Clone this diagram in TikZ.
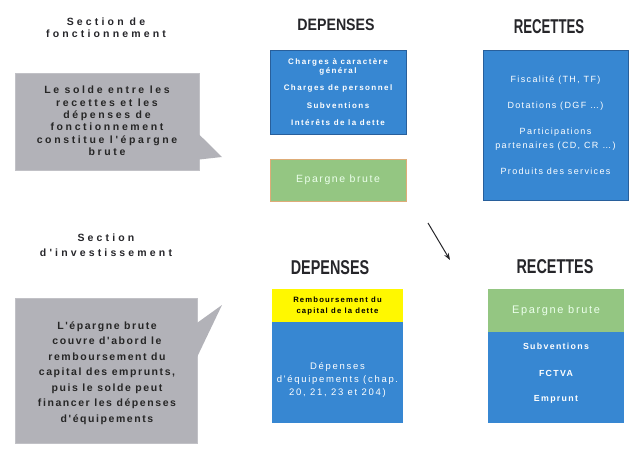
\documentclass[tikz,border=0pt]{standalone}
\usepackage{fontspec}
\setmainfont{Liberation Sans}
\newfontfamily\headfont[FakeStretch=0.72]{Liberation Sans}
\newfontfamily\headwidefont[FakeStretch=0.86]{Liberation Sans}
\newfontfamily\headnarrowfont[FakeStretch=0.66]{Liberation Sans}
\newfontfamily\spfont[LetterSpace=15]{Liberation Sans}
\newfontfamily\boxfont[LetterSpace=18]{Liberation Sans}
\newfontfamily\widefont[LetterSpace=25]{Liberation Sans}
\newfontfamily\titlefont[LetterSpace=30]{Liberation Sans}
\usetikzlibrary{arrows.meta}

\definecolor{boxblue}{RGB}{55,135,210}
\definecolor{boxblueline}{RGB}{40,95,155}
\definecolor{callgray}{RGB}{178,178,184}
\definecolor{epgreen}{RGB}{148,198,130}
\definecolor{eporange}{RGB}{222,172,120}
\definecolor{remyellow}{RGB}{255,248,0}
\definecolor{headgray}{RGB}{38,38,42}

\tikzset{
  bluebox/.style={rectangle,fill=boxblue,draw=boxblueline,line width=0.8pt,inner sep=0pt},
  greenbox/.style={rectangle,fill=epgreen,draw=eporange,line width=0.8pt,inner sep=0pt},
  yellowbox/.style={rectangle,fill=remyellow,inner sep=0pt},
  callbox/.style={rectangle,fill=callgray,draw=callgray!80!white,inner sep=0pt},
  heading/.style={text=headgray,font=\headfont\bfseries\fontsize{20}{22}\selectfont},
  section/.style={text=headgray,align=center,
    font=\titlefont\bfseries\fontsize{10.5}{12}\selectfont},
  calltext/.style={text=black!85,align=center,
    font=\widefont\bfseries\fontsize{10.5}{12.4}\selectfont},
  whitetext/.style={text=white,font=\boxfont\bfseries\fontsize{8}{9}\selectfont},
  rectext/.style={text=white,font=\spfont\fontsize{9}{14}\selectfont},
}

\begin{document}
\begin{tikzpicture}[x=1pt,y=-1pt]

  \useasboundingbox (0,0) rectangle (635,450);

  % section de fonctionnement
  \node[section] (secF) at (106,28) {Section de\\fonctionnement};

  \node[callbox,minimum width=184pt,minimum height=97pt] (callA) at (107,121.5) {};
  \coordinate (tipA) at (222,157);
  \fill[callgray] ([yshift=-13pt]callA.east) -- (tipA) -- ([yshift=-38pt]callA.east) -- cycle;
  \node[calltext] (txtA) at (107,121) {Le solde entre les\\recettes et les\\dépenses de\\fonctionnement\\constitue l'épargne\\brute};

  \node[heading,font=\headwidefont\bfseries\fontsize{16.5}{18}\selectfont] (depA) at (336,25) {DEPENSES};
  \node[heading,font=\headnarrowfont\bfseries\fontsize{20}{22}\selectfont] (recA) at (549,27) {RECETTES};

  \node[bluebox,minimum width=136pt,minimum height=84pt] (chgA) at (338,92) {};
  \node[whitetext] (chgA1) at (338,62) {Charges à caractère};
  \node[whitetext] (chgA2) at (338,71) {général};
  \node[whitetext] (chgA3) at (338,88) {Charges de personnel};
  \node[whitetext] (chgA4) at (338,106) {Subventions};
  \node[whitetext] (chgA5) at (338,123) {Intérêts de la dette};

  \node[greenbox,minimum width=136pt,minimum height=42pt,text=white!92!green,
    font=\spfont\fontsize{10.5}{12}\selectfont] (epA) at (338,180) {Epargne brute};

  \node[bluebox,minimum width=145pt,minimum height=150pt] (prdA) at (555.5,125) {};
  \node[rectext] (prdA1) at (555.5,80) {Fiscalité (TH, TF)};
  \node[rectext] (prdA2) at (555.5,106) {Dotations (DGF \dots)};
  \node[rectext] (prdA3) at (555.5,132) {Participations};
  \node[rectext] (prdA4) at (555.5,146) {partenaires (CD, CR \dots)};
  \node[rectext] (prdA5) at (555.5,171) {Produits des services};

  % lien entre les deux sections
  \coordinate (arrS) at (428,223);
  \coordinate (arrE) at (450,260);
  \draw[headgray,line width=1pt,-{Stealth[length=7pt,width=5pt]}] (arrS) -- (arrE);

  % section d'investissement
  \node[section,font=\titlefont\bfseries\fontsize{10.5}{14.5}\selectfont] (secI) at (106,245) {Section\\d'investissement};

  \node[callbox,minimum width=182pt,minimum height=145pt] (callB) at (106,370.5) {};
  \coordinate (tipB) at (222,305);
  \fill[callgray] ([yshift=-25pt]callB.north east) -- (tipB) -- ([yshift=-59pt]callB.north east) -- cycle;
  \node[calltext,font=\spfont\bfseries\fontsize{10.5}{15.5}\selectfont] (txtB) at (107,373) {L'épargne brute\\couvre d'abord le\\remboursement du\\capital des emprunts,\\puis le solde peut\\financer les dépenses\\d'équipements};

  \node[heading] (depB) at (330,268) {DEPENSES};
  \node[heading] (recB) at (555,267) {RECETTES};

  \node[yellowbox,minimum width=131pt,minimum height=33pt] (remB) at (337.5,305.5) {};
  \node[text=black,font=\spfont\bfseries\fontsize{7.7}{11}\selectfont,align=center] (remB1) at (337.5,306.5) {Remboursement du\\capital de la dette};

  \node[bluebox,draw=none,minimum width=131pt,minimum height=101pt] (equB) at (337.5,372.5) {};
  \node[rectext,align=center,font=\boxfont\fontsize{9.5}{13}\selectfont] (equB1) at (337.5,380) {Dépenses\\d'équipements (chap.\\20, 21, 23 et 204)};

  \node[greenbox,draw=none,minimum width=136pt,minimum height=43pt,text=white!92!green,
    font=\spfont\fontsize{11}{12}\selectfont] (epB) at (556,310.5) {Epargne brute};
  \node[bluebox,draw=none,minimum width=136pt,minimum height=91pt] (finB) at (556,377.5) {};
  \node[rectext,font=\spfont\bfseries\fontsize{8.8}{10}\selectfont] (finB1) at (556,346) {Subventions};
  \node[rectext,font=\spfont\bfseries\fontsize{8.8}{10}\selectfont] (finB2) at (556,373) {FCTVA};
  \node[rectext,font=\spfont\bfseries\fontsize{8.8}{10}\selectfont] (finB3) at (556,399) {Emprunt};

\end{tikzpicture}
\end{document}
